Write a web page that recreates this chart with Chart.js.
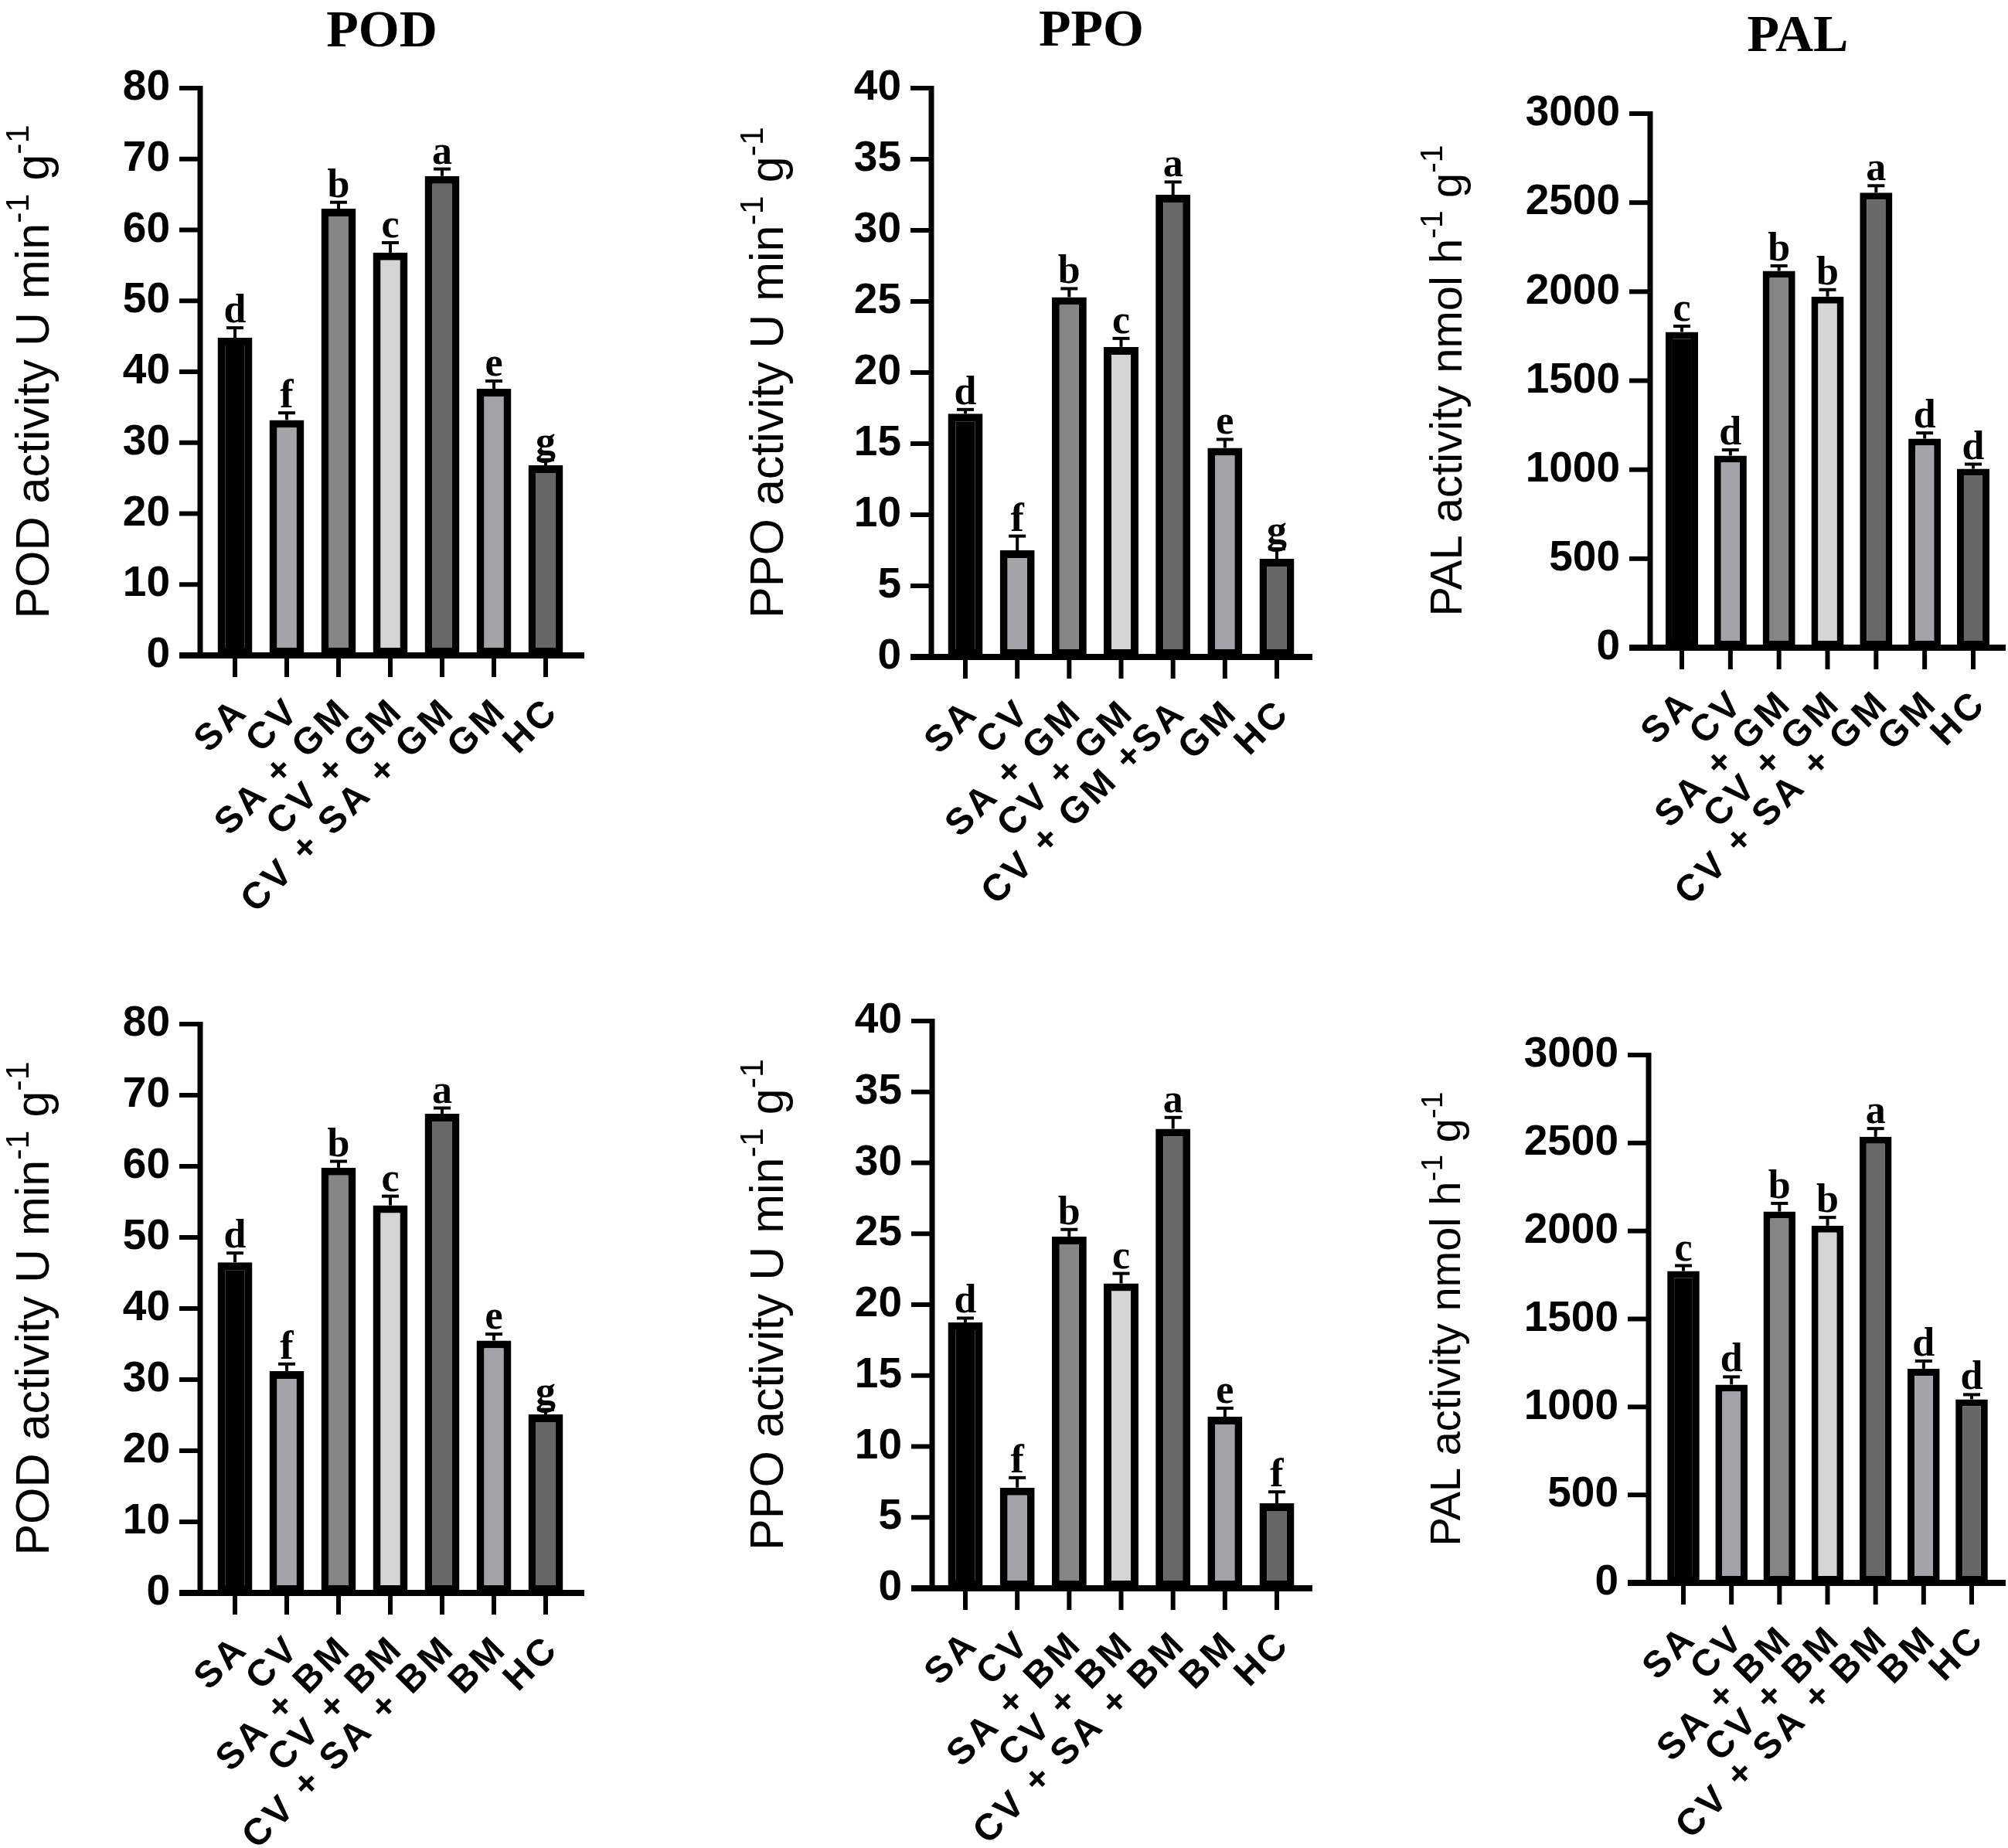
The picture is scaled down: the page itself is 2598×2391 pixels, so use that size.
<!DOCTYPE html>
<html>
<head>
<meta charset="utf-8">
<script src="https://cdn.jsdelivr.net/npm/chart.js@4.4.1/dist/chart.umd.min.js"></script>
<style>
html,body{margin:0;padding:0;background:#fff;width:2598px;height:2391px;overflow:hidden;position:relative}
canvas{position:absolute;display:block}
</style>
</head>
<body>
<canvas id="c0"></canvas><canvas id="c1"></canvas><canvas id="c2"></canvas>
<canvas id="c3"></canvas><canvas id="c4"></canvas><canvas id="c5"></canvas>
<script>
// ---------- data ----------
const catsPOD_GM = ['SA', 'CV', 'SA + GM', 'CV + GM', 'CV + SA + GM', 'GM', 'HC'];
const catsPPO_GM = ['SA', 'CV', 'SA + GM', 'CV + GM', 'CV + GM +SA', 'GM', 'HC'];
const catsPAL_GM = ['SA', 'CV', 'SA + GM', 'CV + GM', 'CV + SA + GM', 'GM', 'HC'];
const catsBM = ['SA', 'CV', 'SA + BM', 'CV + BM', 'CV + SA + BM', 'BM', 'HC'];

const podGM = [44.8, 33.2, 63.0, 56.8, 67.6, 37.6, 26.8];
const podGMErr = [1.4, 1.0, 0.9, 1.4, 1.0, 1.1, 0.8];
const podGMLetters = ['d', 'f', 'b', 'c', 'a', 'e', 'g'];

const ppoGM = [17.1, 7.5, 25.3, 21.8, 32.5, 14.7, 6.9];
const ppoGMErr = [0.3, 1.0, 0.6, 0.6, 0.9, 0.6, 0.7];
const ppoGMLetters = ['d', 'f', 'b', 'c', 'a', 'e', 'g'];

const palGM = [1774, 1079, 2116, 1972, 2556, 1174, 1005];
const palGMErr = [32, 32, 29, 39, 39, 32, 26];
const palGMLetters = ['c', 'd', 'b', 'b', 'a', 'd', 'd'];

const podBM = [46.5, 31.2, 59.8, 54.5, 67.4, 35.5, 25.1];
const podBMErr = [1.3, 1.0, 0.9, 1.3, 0.8, 0.9, 0.7];
const podBMLetters = ['d', 'f', 'b', 'c', 'a', 'e', 'g'];

const ppoBM = [18.75, 7.1, 24.8, 21.5, 32.4, 12.1, 6.0];
const ppoBMErr = [0.3, 0.7, 0.5, 0.7, 0.8, 0.6, 0.8];
const ppoBMLetters = ['d', 'f', 'b', 'c', 'a', 'e', 'f'];

const palBM = [1772, 1127, 2110, 2030, 2535, 1217, 1043];
const palBMErr = [31, 44, 47, 47, 47, 44, 27];
const palBMLetters = ['c', 'd', 'b', 'b', 'a', 'd', 'd'];

const podTicks = [0, 10, 20, 30, 40, 50, 60, 70, 80];
const ppoTicks = [0, 5, 10, 15, 20, 25, 30, 35, 40];
const palTicks = [0, 500, 1000, 1500, 2000, 2500, 3000];

const barColors = ['#000000', '#a3a3a9', '#858585', '#d5d5d5', '#686868', '#a3a3a9', '#666666'];

const podTitle = [['POD activity U min', 0], ['-1', 1], [' g', 0], ['-1', 1]];
const ppoTitle = [['PPO activity U min', 0], ['-1', 1], [' g', 0], ['-1', 1]];
const palTitle = [['PAL activity nmol h', 0], ['-1', 1], [' g', 0], ['-1', 1]];

// ---------- layout (page pixels) ----------
const layouts = [
  {L: 0,    T: 0,    W: 866, H: 1195, axisX: 259,  c0: 304,  c6: 706,  top: 114,  bottom: 848,  xEnd: 756,  yTitleX: 41,   yTitleSize: 61, ptX: 494,  ptY: 38, border: 10},
  {L: 866,  T: 0,    W: 867, H: 1195, axisX: 1205, c0: 1249, c6: 1652, top: 114,  bottom: 850,  xEnd: 1698, yTitleX: 991,  yTitleSize: 61, ptX: 1412, ptY: 37, border: 10},
  {L: 1733, T: 0,    W: 865, H: 1195, axisX: 2135, c0: 2176, c6: 2553, top: 147,  bottom: 838,  xEnd: 2595, yTitleX: 1870, yTitleSize: 58, ptX: 2326, ptY: 44, border: 9},
  {L: 0,    T: 1195, W: 866, H: 1196, axisX: 259,  c0: 304,  c6: 706,  top: 1325, bottom: 2061, xEnd: 756,  yTitleX: 41,   yTitleSize: 61, border: 10},
  {L: 866,  T: 1195, W: 867, H: 1196, axisX: 1206, c0: 1249, c6: 1652, top: 1321, bottom: 2055, xEnd: 1698, yTitleX: 991,  yTitleSize: 61, border: 10},
  {L: 1733, T: 1195, W: 865, H: 1196, axisX: 2133, c0: 2178, c6: 2551, top: 1365, bottom: 2048, xEnd: 2595, yTitleX: 1869, yTitleSize: 56, border: 9}
];

const X_FONT = 48, X_SPACING = 4;

function makeDeco(lay, cats, vals, errs, letters, ticks, yTitle, panelTitle) {
  return {
    id: 'deco',
    afterDatasetsDraw(chart) {
      const ctx = chart.ctx;
      const xs = chart.scales.x, ys = chart.scales.y;
      const ax = lay.axisX - lay.L;
      const y0 = ys.getPixelForValue(0);
      const yTop = ys.getPixelForValue(ticks[ticks.length - 1]);
      const seg = (x1, y1, x2, y2) => { ctx.beginPath(); ctx.moveTo(x1, y1); ctx.lineTo(x2, y2); ctx.stroke(); };
      ctx.save();
      ctx.strokeStyle = '#000';
      ctx.fillStyle = '#000';
      ctx.lineCap = 'butt';
      // error bars + letters
      ctx.font = 'bold 52px "Liberation Serif"';
      ctx.textAlign = 'center';
      ctx.textBaseline = 'alphabetic';
      vals.forEach((v, i) => {
        const x = xs.getPixelForValue(i);
        const yv = ys.getPixelForValue(v);
        const ye = ys.getPixelForValue(v + errs[i]);
        ctx.lineWidth = 4;
        seg(x, yv, x, ye);
        seg(x - 11, ye, x + 11, ye);
        ctx.fillText(letters[i], x, ye - 7);
      });
      // y axis
      ctx.lineWidth = 7;
      seg(ax, yTop - 3, ax, y0);
      ctx.lineWidth = 6;
      ticks.forEach(t => {
        const y = ys.getPixelForValue(t);
        seg(ax - 27, y, ax, y);
      });
      // x axis
      ctx.lineWidth = 8;
      seg(ax - 27, y0, lay.xEnd - lay.L, y0);
      ctx.lineWidth = 6;
      vals.forEach((v, i) => {
        const x = xs.getPixelForValue(i);
        seg(x, y0, x, y0 + 28);
      });
      // x category labels, rotated 45deg, end anchored under the tick
      ctx.font = 'bold ' + X_FONT + 'px "Liberation Sans"';
      ctx.textAlign = 'left';
      ctx.textBaseline = 'alphabetic';
      cats.forEach((lab, i) => {
        const x = xs.getPixelForValue(i);
        const chars = Array.from(lab);
        const widths = chars.map(c => ctx.measureText(c).width);
        const total = widths.reduce((a, b) => a + b, 0) + X_SPACING * (chars.length - 1);
        ctx.save();
        ctx.translate(x + 4, y0 + 65);
        ctx.rotate(-Math.PI / 4);
        let u = -total;
        chars.forEach((c, k) => {
          ctx.fillText(c, u, 0.716 * X_FONT / 2);
          u += widths[k] + X_SPACING;
        });
        ctx.restore();
      });
      // y title with superscripts
      const F = lay.yTitleSize;
      const fontN = F + 'px "Liberation Sans"';
      const fontS = Math.round(F * 0.7) + 'px "Liberation Sans"';
      let total = 0;
      yTitle.forEach(p => { ctx.font = p[1] ? fontS : fontN; total += ctx.measureText(p[0]).width; });
      ctx.save();
      ctx.translate(lay.yTitleX - lay.L, (y0 + yTop) / 2);
      ctx.rotate(-Math.PI / 2);
      ctx.textAlign = 'left';
      ctx.textBaseline = 'alphabetic';
      let u = -total / 2;
      const base = 0.716 * F / 2;
      yTitle.forEach(p => {
        ctx.font = p[1] ? fontS : fontN;
        ctx.fillText(p[0], u, p[1] ? base - 0.42 * F : base);
        u += ctx.measureText(p[0]).width;
      });
      ctx.restore();
      // panel title
      if (panelTitle) {
        ctx.font = 'bold 68px "Liberation Serif"';
        ctx.textAlign = 'center';
        ctx.textBaseline = 'alphabetic';
        ctx.fillText(panelTitle, lay.ptX - lay.L, lay.ptY - lay.T + 0.66 * 68 / 2);
      }
      ctx.restore();
    }
  };
}

function buildChart(id, lay, cats, vals, errs, letters, ticks, yTitle, panelTitle) {
  const cv = document.getElementById(id);
  cv.width = lay.W; cv.height = lay.H;
  cv.style.left = lay.L + 'px'; cv.style.top = lay.T + 'px';
  cv.style.width = lay.W + 'px'; cv.style.height = lay.H + 'px';
  const s = (lay.c6 - lay.c0) / 6;
  const left = lay.c0 - s / 2, right = lay.c6 + s / 2;
  new Chart(cv, {
    type: 'bar',
    data: {
      labels: cats,
      datasets: [{
        data: vals,
        backgroundColor: barColors,
        borderColor: '#000',
        borderWidth: lay.border,
        borderSkipped: false,
        barPercentage: 0.67,
        categoryPercentage: 1
      }]
    },
    options: {
      responsive: false,
      animation: false,
      devicePixelRatio: 1,
      events: [],
      layout: {padding: {left: 0, top: lay.top - lay.T, right: lay.L + lay.W - right, bottom: 0}},
      plugins: {legend: {display: false}, tooltip: {enabled: false}, title: {display: false}},
      scales: {
        x: {
          type: 'category',
          offset: true,
          grid: {display: false, drawTicks: false},
          border: {display: false},
          ticks: {display: false, autoSkip: false},
          afterFit(sc) { sc.height = lay.T + lay.H - lay.bottom; }
        },
        y: {
          min: 0,
          max: ticks[ticks.length - 1],
          grid: {display: false, drawTicks: false},
          border: {display: false},
          afterBuildTicks(sc) { sc.ticks = ticks.map(v => ({value: v})); },
          ticks: {padding: left - (lay.axisX - 39), color: '#000',
                  font: {family: 'Liberation Sans', weight: 'bold', size: 55},
                  callback: v => String(v)},
          afterFit(sc) { sc.width = left - lay.L; }
        }
      }
    },
    plugins: [makeDeco(lay, cats, vals, errs, letters, ticks, yTitle, panelTitle)]
  });
}

buildChart('c0', layouts[0], catsPOD_GM, podGM, podGMErr, podGMLetters, podTicks, podTitle, 'POD');
buildChart('c1', layouts[1], catsPPO_GM, ppoGM, ppoGMErr, ppoGMLetters, ppoTicks, ppoTitle, 'PPO');
buildChart('c2', layouts[2], catsPAL_GM, palGM, palGMErr, palGMLetters, palTicks, palTitle, 'PAL');
buildChart('c3', layouts[3], catsBM, podBM, podBMErr, podBMLetters, podTicks, podTitle, null);
buildChart('c4', layouts[4], catsBM, ppoBM, ppoBMErr, ppoBMLetters, ppoTicks, ppoTitle, null);
buildChart('c5', layouts[5], catsBM, palBM, palBMErr, palBMLetters, palTicks, palTitle, null);
</script>
</body>
</html>
